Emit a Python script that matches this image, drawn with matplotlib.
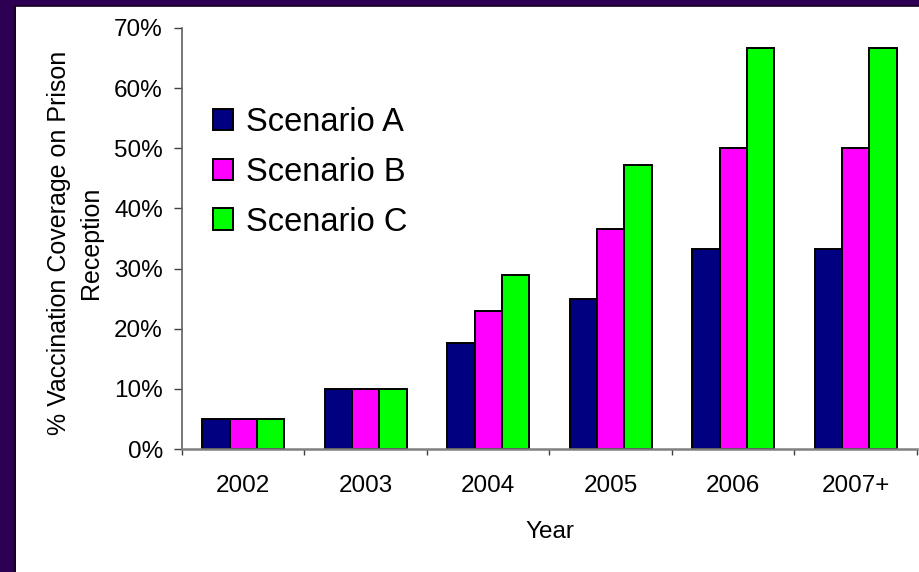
import matplotlib
matplotlib.use("Agg")
import matplotlib.pyplot as plt
import numpy as np
from matplotlib.patches import Patch, Rectangle
from matplotlib.lines import Line2D
from matplotlib.ticker import FuncFormatter, FixedLocator

# Data: vaccination coverage on prison reception (%)
years = ["2002", "2003", "2004", "2005", "2006", "2007+"]
scenario_names = ["Scenario A", "Scenario B", "Scenario C"]
scenario_a = [5, 10, 17.7, 25, 33.3, 33.3]
scenario_b = [5, 10, 23, 36.5, 50, 50]
scenario_c = [5, 10, 29, 47.3, 66.7, 66.7]
colors = ["#000080", "#FF00FF", "#00FF00"]
y_ticks = [0, 10, 20, 30, 40, 50, 60, 70]

plt.rcParams["font.family"] = ["Liberation Sans", "DejaVu Sans"]

W, H = 920, 572
fig = plt.figure(figsize=(W / 100, H / 100), dpi=100)
fig.patch.set_facecolor("#2E0054")

# white slide area with a dark inner edge
fig.patches.append(Rectangle((16 / W, 0), 1 - 16 / W, 1 - 6 / H,
                             transform=fig.transFigure, facecolor="white",
                             edgecolor="none", zorder=-5))
fig.lines.append(Line2D([15 / W, 15 / W], [0, 1 - 5.5 / H], transform=fig.transFigure,
                        color="#14001f", lw=1.2, zorder=-4))
fig.lines.append(Line2D([15 / W, 1], [1 - 5.5 / H, 1 - 5.5 / H], transform=fig.transFigure,
                        color="#14001f", lw=1.2, zorder=-4))

left, right, top, bottom = 182, 917, 28, 449
ax = fig.add_axes([left / W, (H - bottom) / H, (right - left) / W, (bottom - top) / H])
ax.set_facecolor("none")

x = np.arange(len(years))
width = 0.222
series = [scenario_a, scenario_b, scenario_c]
handles = []
for i, (vals, col, name) in enumerate(zip(series, colors, scenario_names)):
    ax.bar(x + (i - 1) * width, vals, width, color=col, edgecolor="black",
           linewidth=1.4, zorder=2)
    handles.append(Patch(facecolor=col, edgecolor="black", linewidth=1.4, label=name))

ax.set_xlim(-0.5, len(years) - 0.5)
ax.set_ylim(0, 70)
ax.set_yticks(y_ticks)
ax.yaxis.set_major_formatter(FuncFormatter(lambda v, p: f"{v:.0f}%"))
ax.set_xticks(x)
ax.set_xticklabels(years)
ax.xaxis.set_minor_locator(FixedLocator(np.arange(-0.5, len(years), 1.0)))

for s in ["top", "right"]:
    ax.spines[s].set_visible(False)
ax.spines["left"].set_color("#606060")
ax.spines["bottom"].set_color("#808080")
ax.spines["left"].set_linewidth(1.2)
ax.spines["bottom"].set_linewidth(1.8)

ax.tick_params(axis="y", direction="out", length=5.8, width=1.0, color="#404040",
               labelsize=17.5, pad=8)
ax.tick_params(axis="x", which="major", length=0, labelsize=17.5, pad=19)
ax.tick_params(axis="x", which="minor", direction="out", length=4.5, width=1.0,
               color="#404040")

fig.text(549.5 / W, 1 - 532 / H, "Year", ha="center", va="center", fontsize=17.5)
fig.text(75 / W, 1 - 243 / H, "% Vaccination Coverage on Prison\nReception",
         rotation=90, ha="center", va="center", multialignment="center",
         fontsize=18, linespacing=1.37)

leg = ax.legend(handles=handles, loc="upper left",
                bbox_to_anchor=(213 / W, 1 - 107 / H), bbox_transform=fig.transFigure,
                frameon=False, fontsize=23.5, handlelength=0.62, handleheight=0.62,
                handletextpad=0.4, labelspacing=0.575, borderpad=0, borderaxespad=0)

fig.savefig("out.png", dpi=100, facecolor=fig.get_facecolor())
